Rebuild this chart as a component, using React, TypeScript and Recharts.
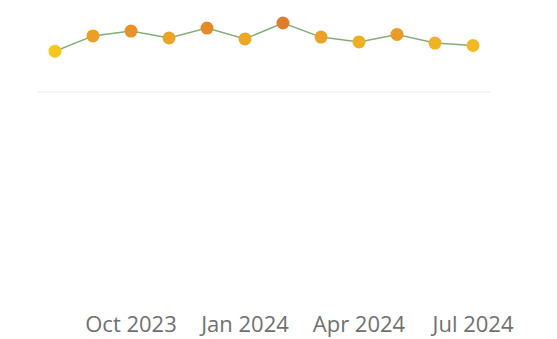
import { LineChart, Line, XAxis, YAxis, ReferenceLine } from 'recharts';

const months = [
  'Aug 2023', 'Sep 2023', 'Oct 2023', 'Nov 2023', 'Dec 2023', 'Jan 2024',
  'Feb 2024', 'Mar 2024', 'Apr 2024', 'May 2024', 'Jun 2024', 'Jul 2024',
];
const scores = [85.6, 90.7, 92.3, 90.0, 93.3, 89.7, 95.0, 90.3, 88.7, 91.2, 88.3, 87.5];
const tickIndexes = [2, 5, 8, 11];
const baseline = 72;

const data = months.map((m, i) => ({ idx: i, month: m, score: scores[i] }));

const lo = Math.min(...scores);
const hi = Math.max(...scores);

// yellow for low scores, deep orange for high ones
function dotColor(v: number) {
  const t = (v - lo) / (hi - lo);
  const a = [245, 200, 32];
  const b = [224, 124, 44];
  const c = a.map((x, k) => Math.round(x + (b[k] - x) * t));
  return `rgb(${c[0]},${c[1]},${c[2]})`;
}

function Dot(props: any) {
  const { cx, cy, payload } = props;
  if (cx == null || cy == null) return null;
  return <circle cx={cx} cy={cy} r={6.5} fill={dotColor(payload.score)} />;
}

export default function App() {
  return (
    <div style={{ width: 557, height: 339 }}>
      <style>{`body{margin:0}`}</style>
      <LineChart
        width={557}
        height={339}
        data={data}
        margin={{ top: 8, right: 67, left: 38, bottom: 1 }}
      >
        <XAxis
          dataKey="idx"
          type="number"
          domain={[0, 11]}
          ticks={tickIndexes}
          tickFormatter={(i: number) => months[i]}
          padding={{ left: 17, right: 17 }}
          axisLine={false}
          tickLine={false}
          height={30}
          tick={{ fill: '#707070', fontSize: 22, fontFamily: 'Open Sans, sans-serif' }}
        />
        <YAxis hide domain={[0, 100]} />
        <ReferenceLine y={baseline} stroke="#efefef" strokeWidth={1.5} />
        <Line
          type="linear"
          dataKey="score"
          stroke="#84ad78"
          strokeWidth={1.5}
          dot={<Dot />}
          activeDot={false}
          isAnimationActive={false}
        />
      </LineChart>
    </div>
  );
}
